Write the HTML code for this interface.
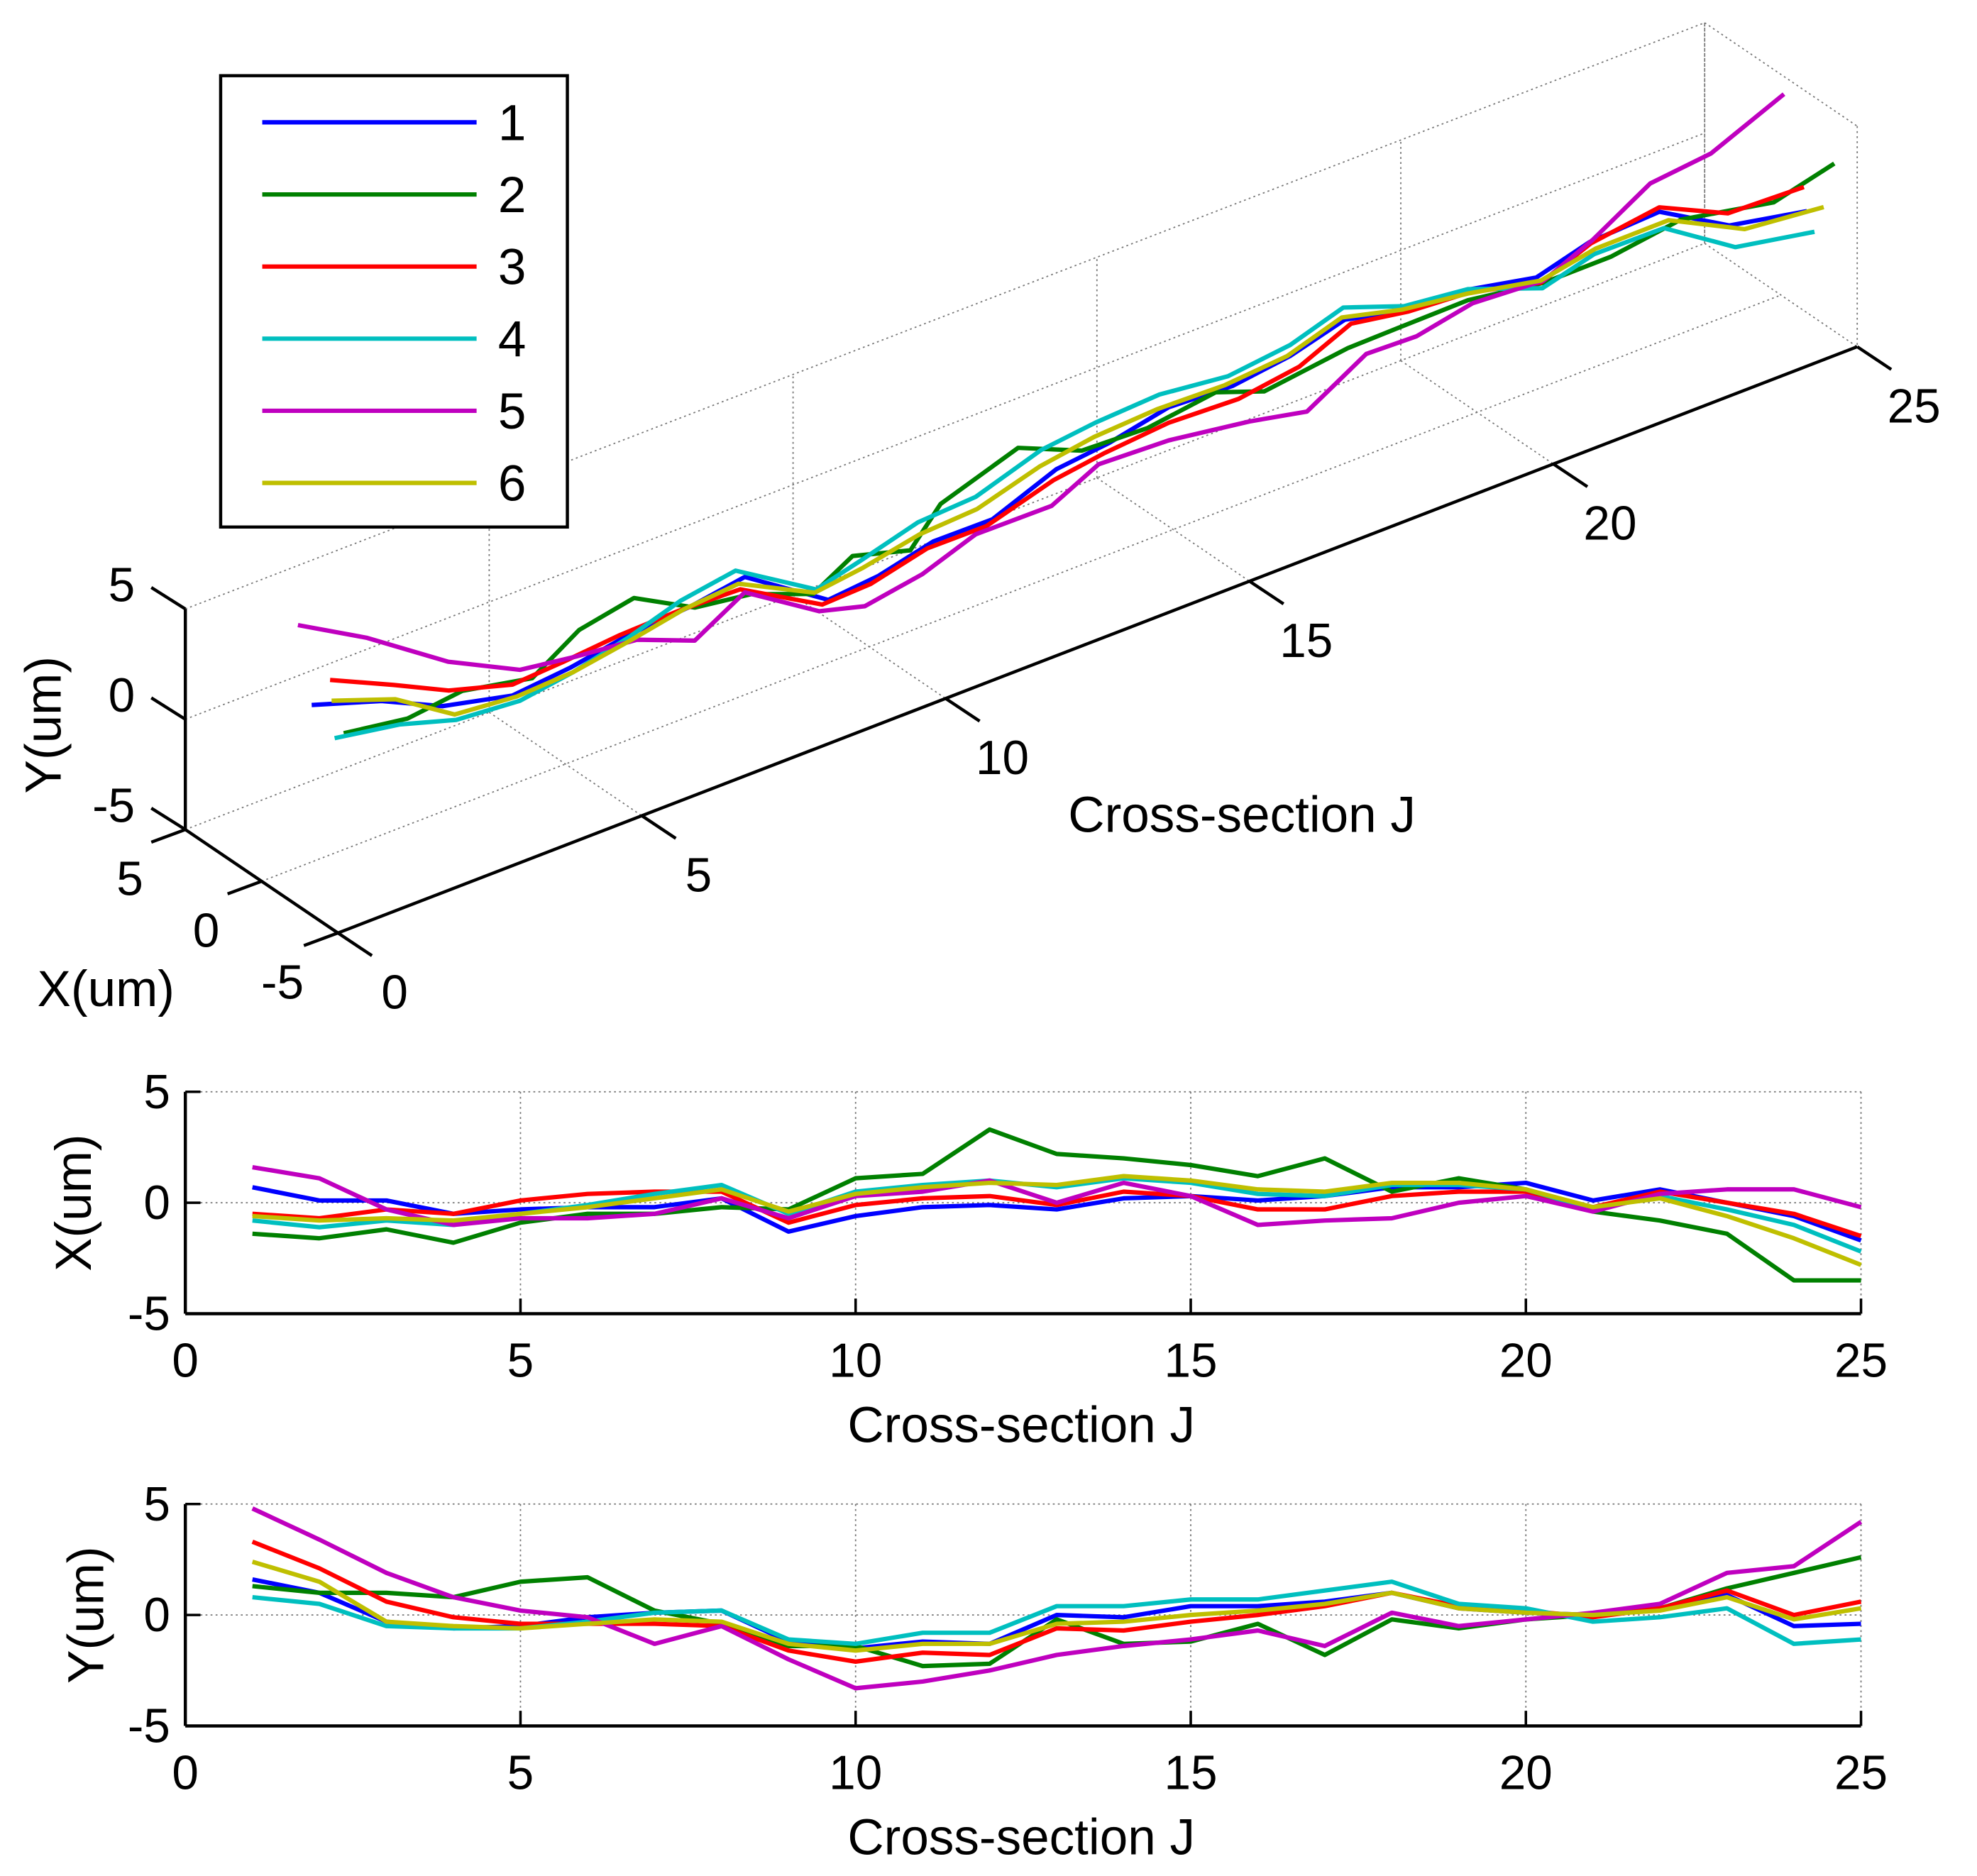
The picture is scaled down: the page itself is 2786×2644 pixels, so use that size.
<!DOCTYPE html>
<html><head><meta charset="utf-8">
<style>
html,body{margin:0;padding:0;background:#fff;}
svg{display:block;}
text{font-family:"Liberation Sans",Arial,sans-serif;fill:#000;}
</style></head>
<body>
<svg id="chart" width="2786" height="2644" viewBox="0 0 1568 1488" xmlns="http://www.w3.org/2000/svg">
  <g id="g3d"></g>
  <g id="gx"></g>
  <g id="gy"></g>
  <g id="legend"></g>
</svg>
<script>
const seriesNames = ["1","2","3","4","5","6"];
const seriesColors = ["#0000ff","#008000","#ff0000","#00bfbf","#bf00bf","#bfbf00"];
const crossSections = [1,2,3,4,5,6,7,8,9,10,11,12,13,14,15,16,17,18,19,20,21,22,23,24,25];
const xTicks = [0,5,10,15,20,25];
const yTicks = [-5,0,5];
const xS1 = [0.7,0.1,0.1,-0.5,-0.3,-0.2,-0.2,0.2,-1.3,-0.6,-0.2,-0.1,-0.3,0.2,0.3,0.1,0.3,0.7,0.7,0.9,0.1,0.6,0.0,-0.6,-1.7];
const xS2 = [-1.4,-1.6,-1.2,-1.8,-0.9,-0.5,-0.5,-0.2,-0.3,1.1,1.3,3.3,2.2,2.0,1.7,1.2,2.0,0.5,1.1,0.6,-0.4,-0.8,-1.4,-3.5,-3.5];
const xS3 = [-0.5,-0.7,-0.3,-0.5,0.1,0.4,0.5,0.5,-0.9,-0.1,0.2,0.3,-0.1,0.5,0.3,-0.3,-0.3,0.3,0.5,0.5,-0.2,0.5,0.0,-0.5,-1.5];
const xS4 = [-0.8,-1.1,-0.8,-1.0,-0.5,-0.1,0.4,0.8,-0.5,0.5,0.8,1.0,0.7,1.1,0.9,0.4,0.3,0.8,0.8,0.6,-0.3,0.3,-0.3,-1.0,-2.2];
const xS5 = [1.6,1.1,-0.3,-1.0,-0.7,-0.7,-0.5,0.2,-0.7,0.3,0.5,1.0,0.0,0.9,0.3,-1.0,-0.8,-0.7,0.0,0.3,-0.4,0.4,0.6,0.6,-0.2];
const xS6 = [-0.6,-0.8,-0.7,-0.8,-0.5,-0.2,0.2,0.6,-0.4,0.4,0.7,0.9,0.8,1.2,1.0,0.6,0.5,0.9,0.9,0.6,-0.2,0.2,-0.6,-1.6,-2.8];
const yS1 = [1.6,1.0,-0.3,-0.6,-0.5,-0.1,0.1,0.2,-1.2,-1.5,-1.2,-1.3,0.0,-0.1,0.4,0.4,0.6,1.0,0.3,0.1,0.0,0.3,0.9,-0.5,-0.4];
const yS2 = [1.3,1.0,1.0,0.8,1.5,1.7,0.2,-0.4,-1.4,-1.4,-2.3,-2.2,-0.2,-1.3,-1.2,-0.4,-1.8,-0.2,-0.6,-0.2,0.0,0.3,1.2,1.9,2.6];
const yS3 = [3.3,2.1,0.6,-0.1,-0.4,-0.4,-0.4,-0.5,-1.6,-2.1,-1.7,-1.8,-0.6,-0.7,-0.3,0.0,0.4,1.0,0.4,0.2,-0.1,0.3,1.1,0.0,0.6];
const yS4 = [0.8,0.5,-0.5,-0.6,-0.6,-0.3,0.1,0.2,-1.1,-1.3,-0.8,-0.8,0.4,0.4,0.7,0.7,1.1,1.5,0.5,0.3,-0.3,-0.1,0.3,-1.3,-1.1];
const yS5 = [4.8,3.4,1.9,0.8,0.2,-0.1,-1.3,-0.5,-2.0,-3.3,-3.0,-2.5,-1.8,-1.4,-1.1,-0.7,-1.4,0.1,-0.5,-0.2,0.1,0.5,1.9,2.2,4.2];
const yS6 = [2.4,1.5,-0.3,-0.5,-0.6,-0.4,-0.2,-0.3,-1.3,-1.6,-1.3,-1.3,-0.4,-0.3,0.0,0.2,0.5,1.0,0.3,0.1,0.0,0.2,0.8,-0.2,0.3];
const xSeries = [xS1,xS2,xS3,xS4,xS5,xS6];
const ySeries = [yS1,yS2,yS3,yS4,yS5,yS6];

const NS="http://www.w3.org/2000/svg";
function mk(parent,tag,attrs,txt){const e=document.createElementNS(NS,tag);for(const k in attrs)e.setAttribute(k,attrs[k]);if(txt!==undefined)e.textContent=txt;parent.appendChild(e);return e;}
const DOT={"stroke":"#777","stroke-width":"1","stroke-dasharray":"1.5 2.5","fill":"none"};
function line(p,x1,y1,x2,y2,st){return mk(p,"line",Object.assign({x1:x1,y1:y1,x2:x2,y2:y2},st));}
const TF="38", LF="40", LW="3.5";

function plot2d(gid,top,bottom,ylabel,ser,lx){
  const g=document.getElementById(gid);
  const L=147,R=1476;
  const sx=j=>L+(j-0)/(25-0)*(R-L);
  const sy=v=>bottom-(v+5)/10*(bottom-top);
  xTicks.forEach(t=>{ if(t>0){const l=line(g,sx(t),top,sx(t),bottom,DOT);}});
  [0,5].forEach(t=>{const l=line(g,L,sy(t),R,sy(t),DOT);});
  ser.forEach((s,i)=>{
    const pts=s.map((v,k)=>sx(crossSections[k]).toFixed(1)+","+sy(v).toFixed(1)).join(" ");
    const pl=mk(g,"polyline",{points:pts,fill:"none",stroke:seriesColors[i],"stroke-width":LW,"stroke-linejoin":"round"});
    
    
  });
  const ax={"stroke":"#000","stroke-width":"2.5"};
  const a1=line(g,L,top,L,bottom,ax);
  const a2=line(g,L,bottom,R,bottom,ax);
  xTicks.forEach(t=>{
    line(g,sx(t),bottom,sx(t),bottom-12,{"stroke":"#000","stroke-width":"2"});
    const tx=mk(g,"text",{x:sx(t),y:bottom+50,"font-size":TF,"text-anchor":"middle"},String(t));
    
  });
  yTicks.forEach(t=>{
    line(g,L,sy(t),L+12,sy(t),{"stroke":"#000","stroke-width":"2"});
    const tx=mk(g,"text",{x:L-12,y:sy(t)+13,"font-size":TF,"text-anchor":"end"},String(t));
    
  });
  const xl=mk(g,"text",{x:810,y:bottom+102,"font-size":LF,"text-anchor":"middle"},"Cross-section J");
  
  const cy=(top+bottom)/2;
  const yl=mk(g,"text",{x:lx,y:cy,"font-size":LF,"text-anchor":"middle",transform:"rotate(-90 "+lx+" "+cy+")"},ylabel);
  
}
plot2d("gx",866,1042,"X(um)",xSeries,72);
plot2d("gy",1193,1369,"Y(um)",ySeries,82);

const g3=document.getElementById("g3d");
function P(J,X,Y){return [147+J*48.2+(5-X)*12.1, 658-J*18.6+(5-X)*8.2-(Y+5)*17.5];}
function l3(a,b,st,name){const p=P(...a),q=P(...b);const l=line(g3,p[0],p[1],q[0],q[1],st);return l;}
xTicks.forEach(t=>{
  if(t>0){ l3([t,5,-5],[t,5,5],DOT,'back-wall-gridline'); l3([t,5,-5],[t,-5,-5],DOT,'floor-gridline'); }
});
l3([0,5,0],[25,5,0],DOT,'back-wall-gridline');
l3([0,5,5],[25,5,5],DOT,'box-edge');
l3([0,0,-5],[25,0,-5],DOT,'floor-gridline');
l3([0,5,-5],[25,5,-5],DOT,'floor-gridline');
l3([25,5,5],[25,-5,5],DOT,'box-edge');
l3([25,-5,5],[25,-5,-5],DOT,'box-edge');
l3([25,5,5],[25,5,-5],DOT,'box-edge');
xSeries.forEach((xs,i)=>{
  const pts=xs.map((xv,k)=>{const p=P(crossSections[k],xv,ySeries[i][k]);return p[0].toFixed(1)+","+p[1].toFixed(1);}).join(" ");
  const pl=mk(g3,"polyline",{points:pts,fill:"none",stroke:seriesColors[i],"stroke-width":LW,"stroke-linejoin":"round"});
  
  
});
const AX={"stroke":"#000","stroke-width":"2.5"};
l3([0,-5,-5],[25,-5,-5],AX,'j-axis');
l3([0,5,-5],[0,-5,-5],AX,'x-axis-3d');
l3([0,5,-5],[0,5,5],AX,'y-axis-3d');
xTicks.forEach(t=>{
  const p=P(t,-5,-5);
  line(g3,p[0],p[1],p[0]+27,p[1]+18,{"stroke":"#000","stroke-width":"2.5"});
  const tx=mk(g3,"text",{x:p[0]+45,y:p[1]+60,"font-size":TF,"text-anchor":"middle"},String(t));
  
});
[5,0,-5].forEach(t=>{
  const p=P(0,t,-5);
  line(g3,p[0],p[1],p[0]-27,p[1]+10,{"stroke":"#000","stroke-width":"2.5"});
  const tx=mk(g3,"text",{x:p[0]-44,y:p[1]+52,"font-size":TF,"text-anchor":"middle"},String(t));
  
});
yTicks.forEach(t=>{
  const p=P(0,5,t);
  line(g3,p[0],p[1],p[0]-27,p[1]-17,{"stroke":"#000","stroke-width":"2.5"});
  const tx=mk(g3,"text",{x:p[0]-40,y:p[1]-6,"font-size":TF,"text-anchor":"end"},String(t));
  
});
const jt=mk(g3,"text",{x:985,y:660,"font-size":LF,"text-anchor":"middle"},"Cross-section J");

const xt=mk(g3,"text",{x:84,y:798,"font-size":LF,"text-anchor":"middle"},"X(um)");

const yt=mk(g3,"text",{x:48,y:575,"font-size":LF,"text-anchor":"middle",transform:"rotate(-90 48 575)"},"Y(um)");


const lg=document.getElementById("legend");
const box=mk(lg,"rect",{x:175,y:60,width:275,height:358,fill:"#fff",stroke:"#000","stroke-width":"2.5"});

seriesNames.forEach((n,i)=>{
  const y=97+i*57.2;
  const ln=line(lg,208,y,378,y,{"stroke":seriesColors[i],"stroke-width":LW});
  
  const t=mk(lg,"text",{x:395,y:y+14,"font-size":LF},n);
  
});
</script>
</body></html>
